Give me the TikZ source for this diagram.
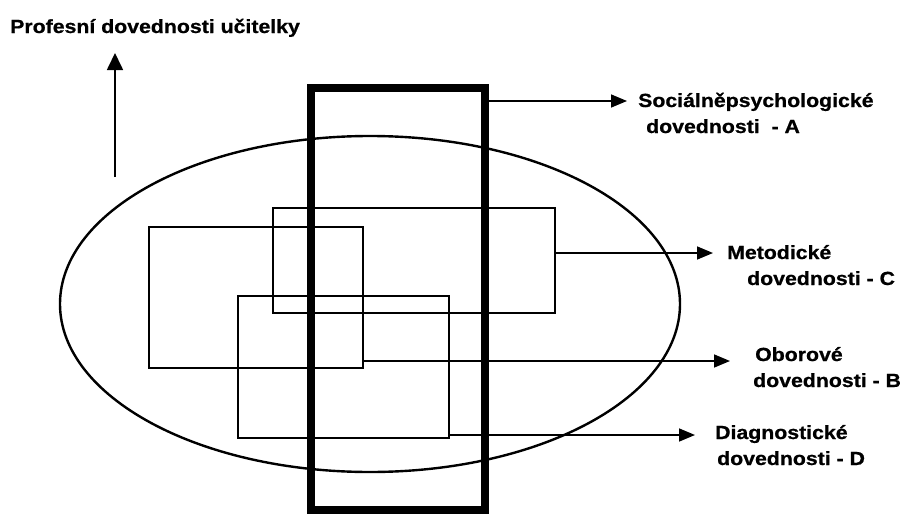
\documentclass[tikz,border=0pt]{standalone}
\usepackage{fontspec}
\setmainfont{Liberation Sans}[FakeStretch=1.12, BoldFeatures={FakeBold=0.8}]
\usetikzlibrary{shapes.geometric,arrows.meta}

\tikzstyle{skill} = [rectangle, draw, line width=2.2pt, inner sep=0pt, outer sep=0pt]
\tikzstyle{social} = [rectangle, draw, line width=7.5pt, inner sep=0pt, outer sep=0pt]
\tikzstyle{oval} = [ellipse, draw, line width=2.4pt, inner sep=0pt, outer sep=0pt]
\tikzstyle{skilltext} = [anchor=base west, align=left, inner sep=0pt, 
font=\fontsize{19pt}{26pt}\selectfont\bfseries]
\tikzstyle{arrow} = [line width=1.6pt, -{Triangle[length=16pt,width=13pt]}]

\begin{document}
\begin{tikzpicture}[x=1pt,y=-1pt]
	\useasboundingbox (0,0) rectangle (900,514);
	%title and axis
	\node[skilltext] (title) at (10,33) {Profesní dovednosti učitelky};
	\coordinate (axisfoot) at (115,177);
	\coordinate (axistip) at (115,53);
	%the whole
	\node[oval, minimum width=620pt, minimum height=336pt] (profile) at (370,304) {};
	%skill boxes
	\node[skill, minimum width=214pt, minimum height=141pt] (oborove) at (256,297.5) {};
	\node[skill, minimum width=282pt, minimum height=105pt] (metodicke) at (414,260.5) {};
	\node[skill, minimum width=211pt, minimum height=142pt] (diagnosticke) at (343.5,367) {};
	\node[social, minimum width=174pt, minimum height=422pt] (socialni) at (398,299) {};
	%texts (base = last line)
	\node[skilltext] (textA) at (638,133) {Sociálněpsychologické\\\hspace*{8pt}dovednosti\ \ - A};
	\node[skilltext] (textC) at (727,285) {Metodické\\\hspace*{20pt}dovednosti - C};
	\node[skilltext] (textB) at (753,387) {\hspace*{2pt}Oborové\\dovednosti - B};
	\node[skilltext] (textD) at (715,465) {Diagnostické\\\hspace*{2pt}dovednosti - D};

	%edges
	\coordinate (fromA) at ([yshift=-13pt]socialni.north east);
	\coordinate (fromC) at ([yshift=7.5pt]metodicke.east);
	\coordinate (fromB) at ([yshift=7pt]oborove.south east);
	\coordinate (fromD) at ([yshift=3pt]diagnosticke.south east);
	\draw[arrow, line width=1.7pt, -{Triangle[length=17pt,width=16pt]}] (axisfoot) -- (axistip);
	\draw[arrow] (fromA) -- ([xshift=-11pt]textA.west |- fromA);
	\draw[arrow] (fromC) -- ([xshift=-14pt]textC.west |- fromC);
	\draw[arrow] (fromB) -- ([xshift=-23pt]textB.west |- fromB);
	\draw[arrow] (fromD) -- ([xshift=-20pt]textD.west |- fromD);
\end{tikzpicture}
\end{document}
